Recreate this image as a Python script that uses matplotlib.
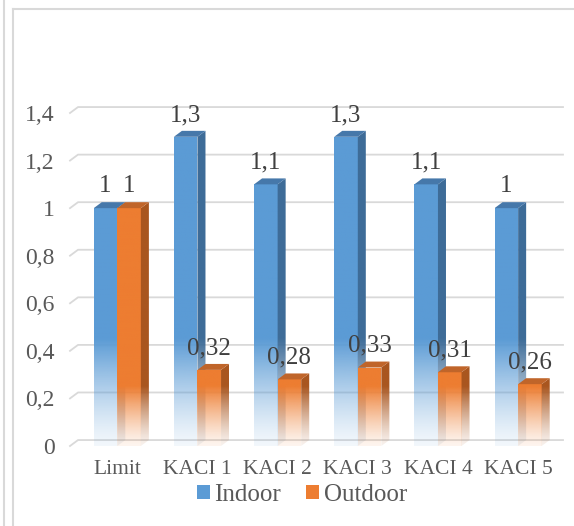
import numpy as np
import matplotlib.pyplot as plt
from matplotlib.patches import Polygon, Patch
from matplotlib.lines import Line2D
from matplotlib.colors import to_rgb

categories = ["Limit", "KACI 1", "KACI 2", "KACI 3", "KACI 4", "KACI 5"]
indoor = [1, 1.3, 1.1, 1.3, 1.1, 1]
outdoor = [1, 0.32, 0.28, 0.33, 0.31, 0.26]
yticks = [0, 0.2, 0.4, 0.6, 0.8, 1, 1.2, 1.4]

plt.rcParams['font.family'] = ['Liberation Serif', 'DejaVu Serif']

W, H = 574, 526
fig = plt.figure(figsize=(W / 100, H / 100), dpi=100)
ax = fig.add_axes([70 / W, 1 - 446 / H, 485 / W, 333 / H])

xl, xr = -0.59, 5.46
dx, dy = 0.1, 0.025
bw = 0.294


def fmt(v):
    return f"{v:g}".replace('.', ',')


def gradient(col, h, v0):
    v = np.linspace(0, h, 300)
    a = np.clip(0.08 + 0.92 * (v / v0) ** 1.3, 0, 1)
    img = np.zeros((300, 1, 4))
    img[:, 0, :3] = to_rgb(col)
    img[:, 0, 3] = a
    return img


def bar3d(x0, h, front, side, top, v0, z):
    faces = [
        (Polygon([(x0, 0), (x0 + bw, 0), (x0 + bw, h), (x0, h)]), front),
        (Polygon([(x0 + bw, 0), (x0 + bw + dx, dy), (x0 + bw + dx, h + dy), (x0 + bw, h)]), side),
        (Polygon([(x0, h), (x0 + bw, h), (x0 + bw + dx, h + dy), (x0 + dx, h + dy)]), top),
    ]
    for poly, col in faces:
        poly.set_facecolor('none')
        poly.set_edgecolor('none')
        ax.add_patch(poly)
        im = ax.imshow(gradient(col, h + dy, v0), extent=[x0, x0 + bw + dx, 0, h + dy],
                       origin='lower', aspect='auto', interpolation='bilinear', zorder=z)
        im.set_clip_path(poly)


# back wall gridlines
for t in yticks:
    ax.plot([xl, xl + dx, xr + dx], [t, t + dy, t + dy], color='#D9D9D9', lw=1.3,
            clip_on=False, zorder=0)

x = np.arange(len(categories))
for i in range(len(categories)):
    bar3d(x[i] - bw, indoor[i], '#5B9BD5', '#3E6C98', '#4678AA', 0.45, 2 + i * 2)
    bar3d(x[i], outdoor[i], '#ED7D31', '#A9561F', '#C0652A', 0.25, 3 + i * 2)

for i in range(len(categories)):
    ax.text(x[i] - bw / 2, indoor[i] + dy + 0.02, fmt(indoor[i]), ha='center',
            va='bottom', fontsize=18, color='#404040', zorder=20)
    ax.text(x[i] + bw / 2, outdoor[i] + dy + 0.02, fmt(outdoor[i]), ha='center',
            va='bottom', fontsize=18, color='#404040', zorder=20)

ax.set_xlim(xl, xr)
ax.set_ylim(0, 1.4)
ax.set_yticks(yticks)
ax.set_yticklabels([fmt(t) for t in yticks])
ax.set_xticks(x)
ax.set_xticklabels(categories)
ax.tick_params(axis='both', length=0, labelsize=17, labelcolor='#595959')
ax.tick_params(axis='x', labelsize=15.5, pad=10)
ax.tick_params(axis='y', pad=11)
for s in ax.spines.values():
    s.set_visible(False)

handles = [Patch(facecolor='#5B9BD5', label='Indoor'),
           Patch(facecolor='#ED7D31', label='Outdoor')]
fig.legend(handles=handles, loc='center', bbox_to_anchor=(302 / W, 1 - 495 / H), ncol=2,
           frameon=False, fontsize=18, labelcolor='#595959', handlelength=0.5,
           handleheight=0.5, handletextpad=0.2, columnspacing=1.0)

# outer frame lines
fig.add_artist(Line2D([3.5 / W, 3.5 / W], [0, 1], transform=fig.transFigure, color='#D9D9D9', lw=1.5))
fig.add_artist(Line2D([13 / W, 13 / W], [0, 1 - 9 / H], transform=fig.transFigure, color='#D9D9D9', lw=1.5))
fig.add_artist(Line2D([13 / W, 1], [1 - 9 / H, 1 - 9 / H], transform=fig.transFigure, color='#D9D9D9', lw=1.5))

fig.savefig("out.png", dpi=100)
